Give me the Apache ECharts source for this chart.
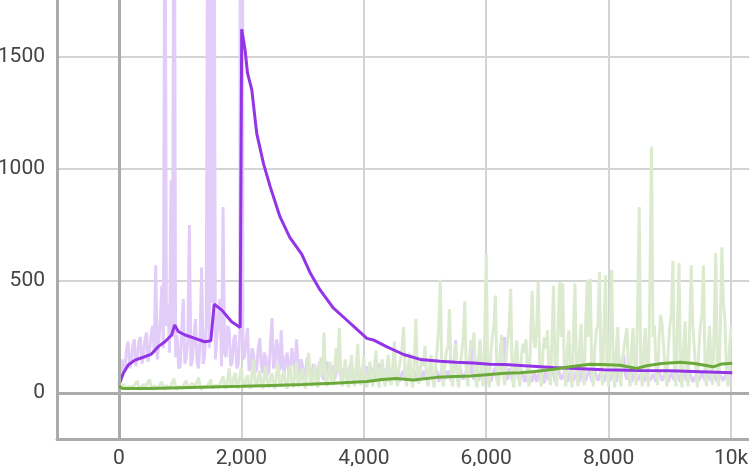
<!DOCTYPE html>
<html>
<head>
<meta charset="utf-8">
<script src="https://cdn.jsdelivr.net/npm/echarts@6/dist/echarts.min.js"></script>
<style>
  html, body { margin: 0; padding: 0; background: #fff; }
  #chart { width: 749px; height: 466px; }
</style>
</head>
<body>
<div id="chart"></div>
<script>
// raw values are sampled every 25 steps, starting at step 0 (8 per row = 200 steps)
var rawStep = 25;

var purpleRaw = [
  40, 110, 150, 90, 120, 200, 230, 110,
  140, 210, 240, 120, 160, 230, 250, 130,
  170, 240, 270, 140, 190, 260, 300, 180,
  570, 150, 220, 330, 480, 200, 2600, 300,
  400, 180, 950, 250, 3000, 160, 260, 110,
  120, 280, 420, 130, 160, 240, 750, 120,
  150, 260, 330, 140, 110, 250, 560, 130,
  170, 300, 2400, 200, 3500, 400, 2800, 150,
  250, 350, 420, 120, 830, 180, 160, 300,
  280, 120, 140, 240, 260, 110, 130, 280,
  9000, 150, 160, 230, 290, 100, 120, 200,
  170, 90, 110, 200, 245, 120, 90, 180,
  160, 80, 100, 220, 335, 110, 130, 240,
  190, 100, 280, 120, 90, 160, 180, 80,
  110, 200, 150, 90, 240, 130, 80, 150,
  120, 70, 90, 160, 125, 80, 70, 130,
  110, 60, 80, 140, 120, 70, 60, 110,
  140, 80, 75, 120, 110, 60, 65, 130,
  130, 70, 70, 110, 100, 55, 60, 120,
  120, 60, 70, 110, 95, 55, 60, 115,
  110, 70, 120, 60, 65, 110, 100, 50,
  55, 120, 130, 60, 70, 110, 90, 50,
  50, 100, 110, 60, 60, 105, 95, 50,
  50, 90, 100, 55, 60, 110, 115, 60,
  55, 100, 90, 50, 120, 70, 60, 100,
  95, 55, 50, 100, 110, 60, 65, 110,
  90, 50, 55, 110, 120, 60, 60, 100,
  100, 55, 70, 130, 235, 90, 60, 110,
  110, 60, 55, 100, 130, 90, 235, 80,
  60, 100, 105, 55, 50, 110, 120, 60,
  60, 100, 95, 50, 55, 100, 115, 60,
  50, 120, 140, 90, 250, 70, 60, 110,
  100, 55, 50, 110, 120, 60, 55, 100,
  90, 50, 60, 110, 110, 60, 50, 100,
  95, 50, 55, 110, 120, 60, 45, 100,
  100, 55, 60, 100, 90, 50, 50, 110,
  115, 60, 55, 90, 85, 50, 45, 100,
  105, 55, 60, 100, 95, 50, 50, 110,
  110, 55, 55, 100, 90, 50, 45, 100,
  100, 55, 60, 95, 85, 50, 50, 100,
  105, 55, 55, 100, 95, 50, 45, 120,
  150, 100, 170, 80, 60, 90, 90, 50,
  50, 100, 100, 55, 55, 90, 85, 50,
  45, 90, 95, 55, 60, 85, 80, 50,
  50, 95, 100, 55, 55, 90, 85, 50,
  45, 90, 95, 55, 60, 85, 80, 50,
  50, 95, 100, 55, 55, 90, 90, 50,
  45, 80, 85, 55, 60, 90, 95, 55,
  50, 80, 80, 55, 55, 85, 90, 50,
  45, 80, 85, 55, 60, 90, 95, 60,
  80
];

var greenRaw = [
  30, 25, 20, 40, 45, 20, 15, 30,
  35, 25, 20, 45, 55, 25, 15, 30,
  40, 20, 20, 50, 60, 25, 15, 35,
  35, 20, 20, 40, 50, 25, 15, 35,
  40, 20, 25, 50, 65, 25, 15, 30,
  30, 20, 20, 45, 55, 20, 15, 35,
  45, 20, 20, 50, 70, 25, 15, 30,
  35, 25, 25, 45, 60, 20, 15, 35,
  40, 25, 20, 55, 75, 30, 20, 60,
  110, 40, 25, 70, 90, 30, 20, 80,
  115, 35, 25, 60, 80, 30, 20, 100,
  150, 40, 30, 70, 100, 35, 20, 80,
  120, 40, 25, 70, 90, 30, 20, 90,
  130, 40, 30, 80, 100, 30, 20, 90,
  125, 40, 25, 90, 140, 40, 30, 80,
  110, 40, 20, 120, 180, 50, 30, 90,
  130, 40, 25, 100, 160, 80, 270, 50,
  30, 90, 140, 50, 35, 120, 200, 90,
  290, 60, 30, 100, 150, 50, 25, 110,
  170, 60, 30, 120, 220, 70, 35, 100,
  160, 50, 25, 90, 140, 60, 30, 120,
  190, 60, 25, 100, 150, 60, 30, 110,
  170, 60, 35, 130, 230, 70, 30, 110,
  150, 200, 295, 80, 30, 120, 180, 60,
  25, 150, 330, 90, 40, 110, 160, 120,
  210, 70, 30, 120, 170, 60, 25, 130,
  200, 300, 505, 90, 30, 130, 190, 200,
  375, 80, 30, 150, 220, 70, 25, 130,
  180, 250, 410, 80, 30, 150, 230, 200,
  270, 60, 25, 160, 240, 80, 30, 250,
  620, 90, 25, 180, 250, 300, 435, 80,
  30, 180, 260, 90, 35, 160, 230, 300,
  465, 80, 25, 170, 235, 90, 30, 160,
  220, 180, 240, 80, 30, 250, 455, 240,
  200, 300, 500, 90, 30, 180, 250, 200,
  280, 80, 35, 260, 480, 90, 30, 300,
  495, 250, 490, 100, 30, 200, 280, 90,
  25, 260, 490, 100, 30, 200, 310, 90,
  35, 300, 505, 250, 510, 90, 30, 200,
  280, 300, 540, 100, 35, 300, 525, 100,
  30, 300, 550, 100, 25, 200, 295, 90,
  30, 150, 200, 250, 290, 90, 30, 200,
  290, 100, 35, 400, 830, 100, 30, 200,
  290, 100, 30, 500, 1100, 250, 300, 100,
  35, 250, 350, 300, 300, 100, 30, 200,
  300, 350, 590, 100, 30, 300, 580, 100,
  25, 200, 320, 100, 30, 300, 570, 300,
  305, 100, 25, 200, 300, 350, 570, 100,
  30, 200, 300, 100, 35, 300, 625, 100,
  30, 300, 650, 400, 330, 100, 30, 200,
  300
];

// smoothed curves, read point by point
var purpleSmoothX = [0, 70, 150, 260, 420, 530, 640, 750, 860, 910,
  970, 1080, 1240, 1400, 1500, 1555, 1680, 1840, 1980, 1992,
  2005, 2060, 2100, 2170, 2250, 2360, 2470, 2630, 2790, 2985,
  3120, 3285, 3500, 3720, 3884, 4050, 4155, 4370, 4650, 4920,
  5250, 5500, 5790, 6060, 6300, 7090, 7920, 8500, 9000, 9500, 10020];
var purpleSmoothY = [36, 88, 125, 147, 162, 174, 207, 229, 259, 304,
  274, 259, 244, 229, 233, 397, 370, 318, 293, 290,
  1623, 1531, 1427, 1353, 1159, 1025, 921, 787, 695, 620,
  538, 460, 380, 326, 285, 244, 237, 207, 172, 150,
  142, 137, 134, 129, 127, 114, 104, 101, 99, 95, 91];

var greenSmoothX = [0, 60, 500, 1000, 1500, 2000, 2500, 3000, 3500, 4050,
  4300, 4540, 4810, 5190, 5500, 5740, 6010, 6300, 6550, 6800,
  7100, 7400, 7700, 7900, 8190, 8460, 8620, 8870, 9170, 9400,
  9710, 9850, 10020];
var greenSmoothY = [30, 20, 20, 24, 27, 30, 34, 38, 44, 52,
  60, 65, 58, 70, 74, 76, 82, 88, 91, 96,
  106, 118, 129, 127, 124, 110, 122, 132, 137, 132,
  117, 130, 133];

function pairsFromStep(values) {
  return values.map(function (v, i) { return [i * rawStep, v]; });
}
function pairs(xs, ys) {
  return xs.map(function (x, i) { return [x, ys[i]]; });
}

var chart = echarts.init(document.getElementById('chart'), null, { renderer: 'canvas' });

var labelStyle = {
  color: '#444',
  fontSize: 21,
  fontFamily: 'Roboto'
};

var option = {
  animation: false,
  backgroundColor: '#fff',
  grid: {
    left: 57, right: -31, top: -20, bottom: 27,
    containLabel: false,
    outerBoundsMode: 'none'
  },
  xAxis: {
    type: 'value',
    min: -1013,
    max: 10800,
    minInterval: 2000,
    maxInterval: 2000,
    axisLine: { onZero: false, lineStyle: { color: '#ababab', width: 3 } },
    axisTick: { show: false },
    splitLine: { lineStyle: { color: '#d4d4d4', width: 2 } },
    axisLabel: Object.assign({
      margin: 9,
      showMinLabel: false,
      showMaxLabel: false,
      hideOverlap: false,
      formatter: function (v) {
        if (v >= 10000) return (v / 1000) + 'k';
        return String(v).replace(/\B(?=(\d{3})+(?!\d))/g, ',');
      }
    }, labelStyle)
  },
  yAxis: {
    type: 'value',
    min: -205,
    max: 1843,
    minInterval: 500,
    maxInterval: 500,
    axisLine: { show: true, onZero: false, lineStyle: { color: '#ababab', width: 3 } },
    axisTick: { show: false },
    splitLine: { lineStyle: { color: '#d4d4d4', width: 2 } },
    axisLabel: Object.assign({
      margin: 12,
      showMinLabel: false,
      showMaxLabel: false,
      formatter: function (v) { return String(v); }
    }, labelStyle)
  },
  series: [
    {
      name: 'purple raw',
      type: 'line',
      data: pairsFromStep(purpleRaw),
      showSymbol: false,
      lineStyle: { color: '#e2cdf8', width: 3 },
      z: 2,
      markLine: {
        silent: true,
        symbol: 'none',
        label: { show: false },
        lineStyle: { color: '#ababab', width: 3, type: 'solid' },
        data: [{ xAxis: 0 }, { yAxis: 0 }]
      }
    },
    {
      name: 'green raw',
      type: 'line',
      data: pairsFromStep(greenRaw),
      showSymbol: false,
      lineStyle: { color: '#dcebd0', width: 3 },
      z: 3
    },
    {
      name: 'purple smoothed',
      type: 'line',
      data: pairs(purpleSmoothX, purpleSmoothY),
      showSymbol: false,
      lineStyle: { color: '#9334e6', width: 3 },
      z: 4
    },
    {
      name: 'green smoothed',
      type: 'line',
      data: pairs(greenSmoothX, greenSmoothY),
      showSymbol: false,
      lineStyle: { color: '#6aa93a', width: 3 },
      z: 5
    }
  ]
};

chart.setOption(option);
</script>
</body>
</html>
